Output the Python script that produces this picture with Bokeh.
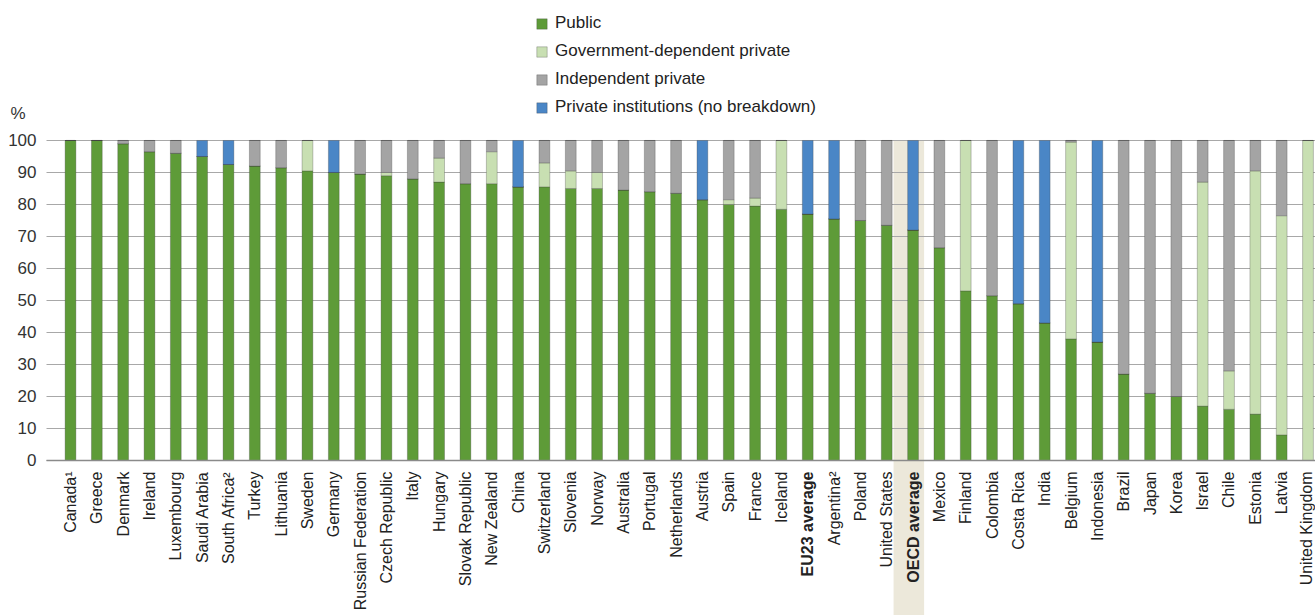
import math
from bokeh.plotting import figure
from bokeh.models import (ColumnDataSource, Range1d, FixedTicker, LinearAxis,
                          BoxAnnotation, Label, Legend, LegendItem)
from bokeh.embed import file_html
from bokeh.resources import INLINE

countries = ["Canada\u00b9", "Greece", "Denmark", "Ireland", "Luxembourg", "Saudi Arabia",
             "South Africa\u00b2", "Turkey", "Lithuania", "Sweden", "Germany",
             "Russian Federation", "Czech Republic", "Italy", "Hungary", "Slovak Republic",
             "New Zealand", "China", "Switzerland", "Slovenia", "Norway", "Australia",
             "Portugal", "Netherlands", "Austria", "Spain", "France", "Iceland",
             "EU23 average", "Argentina\u00b2", "Poland", "United States", "OECD average",
             "Mexico", "Finland", "Colombia", "Costa Rica", "India", "Belgium", "Indonesia",
             "Brazil", "Japan", "Korea", "Israel", "Chile", "Estonia", "Latvia",
             "United Kingdom"]

public = [100, 100, 99, 96.5, 96, 95, 92.5, 92, 91.5, 90.5, 90, 89.5,
          89, 88, 87, 86.5, 86.5, 85.5, 85.5, 85, 85, 84.5, 84, 83.5,
          81.5, 80, 79.5, 78.5, 77, 75.5, 75, 73.5, 72, 66.5, 53, 51.5,
          49, 43, 38, 37, 27, 21, 20, 17, 16, 14.5, 8, 0]
gov_dependent = [0, 0, 0, 0, 0, 0, 0, 0, 0, 9.5, 0, 0,
                 1, 0, 7.5, 0, 10, 0, 7.5, 5.5, 5, 0, 0, 0,
                 0, 1.5, 2.5, 21.5, 0, 0, 0, 0, 0, 0, 47, 0,
                 0, 0, 61.5, 0, 0, 0, 0, 70, 12, 76, 68.5, 100]
independent = [0, 0, 1, 3.5, 4, 0, 0, 8, 8.5, 0, 0, 10.5,
               10, 12, 5.5, 13.5, 3.5, 0, 7, 9.5, 10, 15.5, 16, 16.5,
               0, 18.5, 18, 0, 0, 0, 25, 26.5, 0, 33.5, 0, 48.5,
               0, 0, 0.5, 0, 73, 79, 80, 13, 72, 9.5, 23.5, 0]
no_breakdown = [0, 0, 0, 0, 0, 5, 7.5, 0, 0, 0, 10, 0,
                0, 0, 0, 0, 0, 14.5, 0, 0, 0, 0, 0, 0,
                18.5, 0, 0, 0, 23, 24.5, 0, 0, 28, 0, 0, 0,
                51, 57, 0, 63, 0, 0, 0, 0, 0, 0, 0, 0]

series_names = ["Public", "Government-dependent private", "Independent private",
                "Private institutions (no breakdown)"]
series_colors = ["#5e9b38", "#c8dfb2", "#a4a4a4", "#4a86c6"]
bold_labels = ["EU23 average", "OECD average"]
y_ticks = [0, 10, 20, 30, 40, 50, 60, 70, 80, 90, 100]

FONT = "Liberation Sans"
idx = list(range(len(countries)))
source = ColumnDataSource(dict(x=idx, public=public, gov=gov_dependent,
                               ind=independent, nb=no_breakdown))

X0, X1 = -2.6586, 47.285
Y_AXIS_X = -0.9115
p = figure(width=1315, height=615, x_range=Range1d(X0, X1),
           y_range=Range1d(-48.44, 143.75), output_backend="svg",
           toolbar_location=None, x_axis_location=None, y_axis_location=None,
           min_border_left=0, min_border_right=0, min_border_top=0,
           min_border_bottom=0)
p.outline_line_color = None
p.background_fill_color = "white"

oecd_i = countries.index("OECD average")
shade = BoxAnnotation(left=oecd_i - 0.74, right=oecd_i + 0.42, top=100,
                      fill_color="#ece8da", fill_alpha=1.0, line_color=None,
                      level="image")
p.add_layout(shade)

renderers = p.vbar_stack(["public", "gov", "ind", "nb"], x="x", width=0.41,
                         source=source, color=series_colors,
                         line_color="#404040", line_width=0.5, line_alpha=0.6)

# y axis (fixed inside frame) & grid
yax = LinearAxis(fixed_location=Y_AXIS_X, ticker=FixedTicker(ticks=y_ticks))
yax.axis_line_color = None
yax.major_tick_line_color = None
yax.minor_tick_line_color = None
yax.major_label_standoff = 4
yax.major_label_text_font = FONT
yax.major_label_text_font_size = "17px"
yax.major_label_text_color = "#333333"
p.add_layout(yax, "left")

p.ygrid.ticker = FixedTicker(ticks=y_ticks)
p.ygrid.cross_bounds = (Y_AXIS_X, X1)
p.ygrid.grid_line_color = "#a8a8a8"
p.ygrid.grid_line_width = 1
p.xgrid.visible = False

# x axes (fixed at 0, labels rotated)
normal_ticks = [i for i in idx if countries[i] not in bold_labels]
bold_ticks = [i for i in idx if countries[i] in bold_labels]

ax = LinearAxis(fixed_location=0, ticker=FixedTicker(ticks=normal_ticks),
                major_label_overrides={i: countries[i] for i in normal_ticks})
ax2 = LinearAxis(fixed_location=0, ticker=FixedTicker(ticks=bold_ticks),
                 major_label_overrides={i: countries[i] for i in bold_ticks})
for a, style in ((ax, "normal"), (ax2, "bold")):
    a.major_label_orientation = math.pi / 2
    a.major_tick_line_color = None
    a.minor_tick_line_color = None
    a.major_label_standoff = 5
    a.major_label_text_font = FONT
    a.major_label_text_font_size = "16px"
    a.major_label_text_font_style = style
    a.major_label_text_color = "#222222"
    a.axis_line_color = "#8a8a8a"
    a.axis_line_width = 1.5
ax.bounds = (Y_AXIS_X, X1)
ax2.axis_line_color = None
p.add_layout(ax, "below")
p.add_layout(ax2, "below")

legend = Legend(items=[LegendItem(label=n, renderers=[r])
                       for n, r in zip(series_names, renderers)],
                location=(535, 498), orientation="vertical",
                background_fill_alpha=0, border_line_color=None,
                padding=2, margin=0, spacing=8, label_height=20,
                glyph_height=13, glyph_width=13, label_standoff=7,
                label_text_font=FONT, label_text_font_size="17px",
                label_text_color="#222222")
p.add_layout(legend)

p.add_layout(Label(x=(10 - 70) / 26.33, y=108.4, text="%",
                   text_font=FONT, text_font_size="17px", text_color="#333333",
                   text_baseline="middle", text_align="left"))

open("out.html", "w").write(file_html(p, INLINE))
